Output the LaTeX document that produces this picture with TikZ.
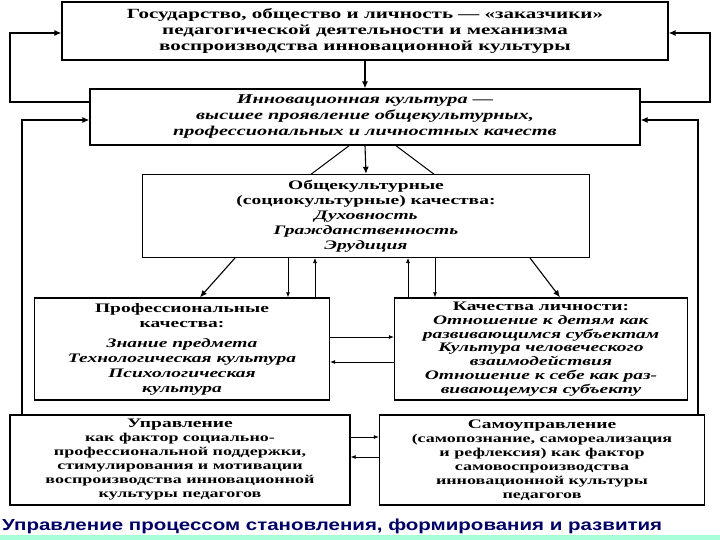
\documentclass[tikz,border=0pt]{standalone}
\usepackage{fontspec}
\setmainfont{Liberation Serif}[FakeStretch=1.5]
\newfontfamily\capfont{Liberation Sans}[FakeStretch=1.28]
\usetikzlibrary{arrows.meta}
\begin{document}
\begin{tikzpicture}[x=1pt,y=-1pt,
  box/.style={draw,line width=1.4pt,fill=white,align=center,font=\fontsize{13}{15}\selectfont\bfseries,inner sep=1pt},
  arr/.style={-{Latex[length=7pt,width=6pt]},line width=1.1pt},
  thin/.style={-{Latex[length=5pt,width=4pt]},line width=0.7pt}]
\useasboundingbox (0,0) rectangle (720,540);
\fill[white] (0,0) rectangle (720,540);
\fill[green!45!cyan!35] (0,535) rectangle (720,540);
% lines behind the box
\draw[line width=1pt] (350,145) -- (290,190);
\draw[line width=1pt] (395,145) -- (455,190);
\node[box,minimum width=606pt,minimum height=58pt,font=\fontsize{14}{16}\selectfont\bfseries] (top) at (365,31) {Государство, общество и личность — «заказчики»\\педагогической деятельности и механизма\\воспроизводства инновационной культуры};
\node[box,minimum width=550pt,minimum height=56pt,font=\fontsize{13.5}{16}\selectfont\bfseries\itshape] (inno) at (365,117) {Инновационная культура —\\высшее проявление общекультурных,\\профессиональных и личностных качеств};
\node[box,minimum width=447pt,minimum height=83pt] (gen) at (366,216) {Общекультурные\\(социокультурные) качества:\\\textit{Духовность}\\\textit{Гражданственность}\\\textit{Эрудиция}};
\node[box,minimum width=295pt,minimum height=102pt] (prof) at (182,349) {Профессиональные\\качества:\\[5pt]\textit{Знание предмета}\\\textit{Технологическая культура}\\\textit{Психологическая}\\\textit{культура}};
\node[box,minimum width=293pt,minimum height=102pt,font=\fontsize{13}{13.8}\selectfont\bfseries] (pers) at (541,349) {Качества личности:\\\textit{Отношение к детям как}\\\textit{развивающимся субъектам}\\\textit{Культура человеческого}\\\textit{взаимодействия}\\\textit{Отношение к себе как раз-}\\\textit{вивающемуся субъекту}};
\node[box,minimum width=340pt,minimum height=90pt,font=\fontsize{12}{14}\selectfont\bfseries] (upr) at (180,460) {{\fontsize{13}{14}\selectfont Управление}\\как фактор социально-\\профессиональной поддержки,\\стимулирования и мотивации\\воспроизводства инновационной\\культуры педагогов};
\node[box,minimum width=325pt,minimum height=90pt,font=\fontsize{12}{14}\selectfont\bfseries] (self) at (542,460) {{\fontsize{13}{14}\selectfont Самоуправление}\\(самопознание, самореализация\\и рефлексия) как фактор\\самовоспроизводства\\инновационной культуры\\педагогов};
\node[font=\capfont\bfseries\fontsize{16}{17}\selectfont,text=blue!40!black,anchor=west,inner sep=0pt] (cap) at (2,526) {Управление процессом становления, формирования и развития};
% arrows
\draw[arr] (top.south) -- (inno.north);
\draw[arr] (inno.south) -- (gen.north);
\draw[arr] (inno.west |- 0,102) -- (10,102) -- (10,33) -- (top.west |- 0,33);
\draw[arr] (inno.east |- 0,102) -- (710,102) -- (710,33) -- (top.east |- 0,33);
\draw[arr] (upr.north -| 22,0) -- (22,120) -- (inno.west |- 0,120);
\draw[arr] (self.north -| 698,0) -- (698,120) -- (inno.east |- 0,120);
\draw[arr] (235,258) -- (prof.north -| 200,0);
\draw[arr] (530,258) -- (pers.north -| 560,0);
\draw[thin] (288,258) -- (prof.north -| 288,0);
\draw[thin] (prof.north -| 315,0) -- (315,258);
\draw[thin] (pers.north -| 408,0) -- (408,258);
\draw[thin] (435,258) -- (pers.north -| 435,0);
\draw[thin] (prof.east |- 0,337) -- (pers.west |- 0,337);
\draw[thin] (pers.west |- 0,362) -- (prof.east |- 0,362);
\draw[thin] (upr.east |- 0,437) -- (self.west |- 0,437);
\draw[thin] (self.west |- 0,457) -- (upr.east |- 0,457);
\end{tikzpicture}
\end{document}
